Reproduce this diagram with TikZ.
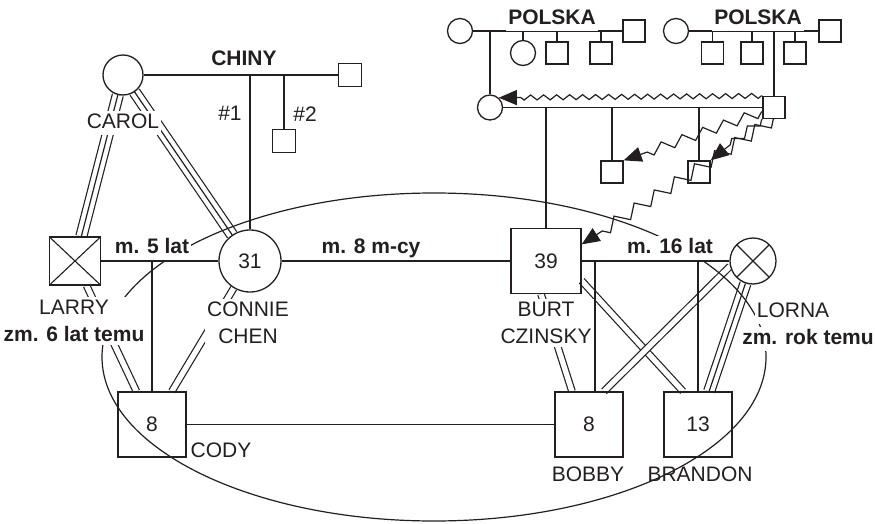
\documentclass[tikz,border=0pt]{standalone}
\usepackage{fontspec}
\setmainfont{Liberation Sans}
\usetikzlibrary{arrows.meta, decorations.pathmorphing, backgrounds}
\definecolor{ink}{HTML}{231F20}
\newcommand\lblfont{\fontsize{21}{27}\selectfont}
\tikzset{
  >=latex,
  % persone
  person/.style={draw=ink,line width=1.3pt,inner sep=0,font=\lblfont,text=ink},
  male/.style={person,rectangle,minimum width=68,minimum height=65},
  male small/.style={person,rectangle,minimum size=22},
  female/.style={person,circle,minimum size=25},
  dead/.style={path picture={\draw[ink,line width=1.1pt]
      (path picture bounding box.north west) -- (path picture bounding box.south east)
      (path picture bounding box.north east) -- (path picture bounding box.south west);}},
  % scritte
  txt/.style={fill=white,inner xsep=2pt,inner ysep=2.5pt,text height=14.5pt,text depth=4pt,font=\lblfont,text=ink},
  txt bold/.style={txt,font=\lblfont\bfseries},
  txt two/.style={fill=white,inner xsep=2pt,inner ysep=3pt,align=center,font=\lblfont,text=ink},
  % legami
  connect/.style={draw=ink,line width=1.2pt},
  rel double/.style={connect,double=white,double distance=5.3pt},
  rel triple/.style={connect,double=white,double distance=9.8pt},
  hostile/.style={connect,decorate,decoration={zigzag,segment length=13pt,amplitude=2.5pt,pre length=1pt,post length=16pt},-{Triangle[length=18pt,width=15pt]}}
}

\begin{document}
\begin{tikzpicture}[x=1pt,y=-1pt]
  \useasboundingbox (0,0) rectangle (875,524);

  \node[female,minimum size=40] (carol) at (123,75) {};
  \node[male small,minimum size=23] (chinaman) at (350,75) {};
  \node[male small,minimum size=23] (sontwo) at (284,141) {};
  \node[male,dead,minimum width=51,minimum height=48] (larry) at (75,261) {};
  \node[female,minimum size=62] (connie) at (250,261) {31};
  \node[male,minimum width=70] (burt) at (546,261) {39};
  \node[female,dead,minimum size=46] (lorna) at (753,261) {};
  \node[male] (cody) at (152,424.5) {8};
  \node[male] (bobby) at (589,424.5) {8};
  \node[male] (brandon) at (698,424.5) {13};

  \node[female] (gma) at (460,31) {};
  \node[male small] (gpa) at (634,31) {};
  \node[female] (aunt) at (523,53) {};
  \foreach \n/\x in {unclea/557, uncleb/601}
    \node[male small] (\n) at (\x,53) {};
  \node[female] (gmb) at (676,31) {};
  \node[male small] (gpb) at (830,31) {};
  \foreach \n/\x in {unclec/712.5, uncled/752, unclee/795}
    \node[male small] (\n) at (\x,53) {};
  \node[female] (mother) at (490,107.5) {};
  \node[male small] (father) at (774,107.5) {};
  \node[male small] (brotha) at (612,172) {};
  \node[male small] (brothb) at (699,172) {};

  \begin{scope}[on background layer]
    \foreach \a/\b in {carol/larry, carol/connie, lorna/brandon}{
      \draw[rel triple] (\a) -- (\b);
      \draw[connect] (\a) -- (\b);
    }
    \draw[rel double] (larry) -- (cody);
    \draw[rel double] (connie) -- (cody);
    \draw[rel double] ([xshift=-5]burt.south) -- ([xshift=-17]bobby.north);
    \draw[rel double] (burt.-29) -- ([xshift=-15]brandon.north);
    \draw[rel double] (lorna.193) -- ([xshift=15]bobby.north);
  \end{scope}

  \draw[connect] (carol) -- (chinaman);
  \draw[connect] (connie.north) -- (connie.north |- carol.east);
  \draw[connect] (sontwo.north) -- (sontwo.north |- carol.east);
  \draw[connect] (larry) -- (connie) (connie) -- (burt) (burt) -- (lorna);
  \draw[connect] (cody.north) -- (cody.north |- larry.east);
  \draw[connect] ([xshift=6]bobby.north) -- ([xshift=6]bobby.north |- burt.east);
  \draw[connect] (brandon.north) -- (brandon.north |- burt.east);
  \draw[connect] (cody) -- (bobby);

  \draw[connect] (gma) -- (gpa) (gmb) -- (gpb) (mother) -- (father);
  \foreach \n in {mother, aunt, unclea, uncleb}
    \draw[connect] (\n.north) -- (\n.north |- gma.east);
  \foreach \n in {unclec, uncled, father, unclee}
    \draw[connect] (\n.north) -- (\n.north |- gmb.east);
  \foreach \n in {burt, brotha, brothb}
    \draw[connect] (\n.north) -- (\n.north |- mother.east);

  \draw[hostile] (father.north west) -- (mother.48);
  \draw[hostile,decoration={segment length=22pt,amplitude=5pt}] (father.200) -- (brotha.north east);
  \draw[hostile,decoration={segment length=20pt,amplitude=4pt}] (father.south west) -- (brothb.north east);
  \draw[hostile,decoration={segment length=24pt,amplitude=6pt}] (father.south) -- (burt.25);

  \draw[connect] (434,357) ellipse [x radius=332, y radius=164];

  \node[txt bold] (chinylbl) at (244,60) {CHINY};
  \node[txt] (hash1) at (230,115) {\#1};
  \node[txt] (hash2) at (305,116) {\#2};
  \node[txt] (carollbl) at (123,123) {CAROL};
  \node[txt bold] (marlc) at (152,248) {m. 5 lat};
  \node[txt two] (larrylbl) at (74,321) {LARRY\\\bfseries zm. 6 lat temu};
  \node[txt two] (connielbl) at (248,323) {CONNIE\\CHEN};
  \node[txt bold] (marcb) at (371,248) {m. 8 m-cy};
  \node[txt two] (burtlbl) at (546,323) {BURT\\CZINSKY};
  \node[txt bold] (marbl) at (670,248) {m. 16 lat};
  \node[txt] (lornalbl) at (793,312) {LORNA};
  \node[txt bold] (lornadied) at (808,339) {zm. rok temu};
  \node[txt,fill=none] (codylbl) at (221,452) {CODY};
  \node[txt,fill=none] (bobbylbl) at (588,476) {BOBBY};
  \node[txt,fill=none] (brandonlbl) at (700,476) {BRANDON};
  \node[txt bold] (polskaa) at (552,19) {POLSKA};
  \node[txt bold] (polskab) at (758,19) {POLSKA};
\end{tikzpicture}
\end{document}
